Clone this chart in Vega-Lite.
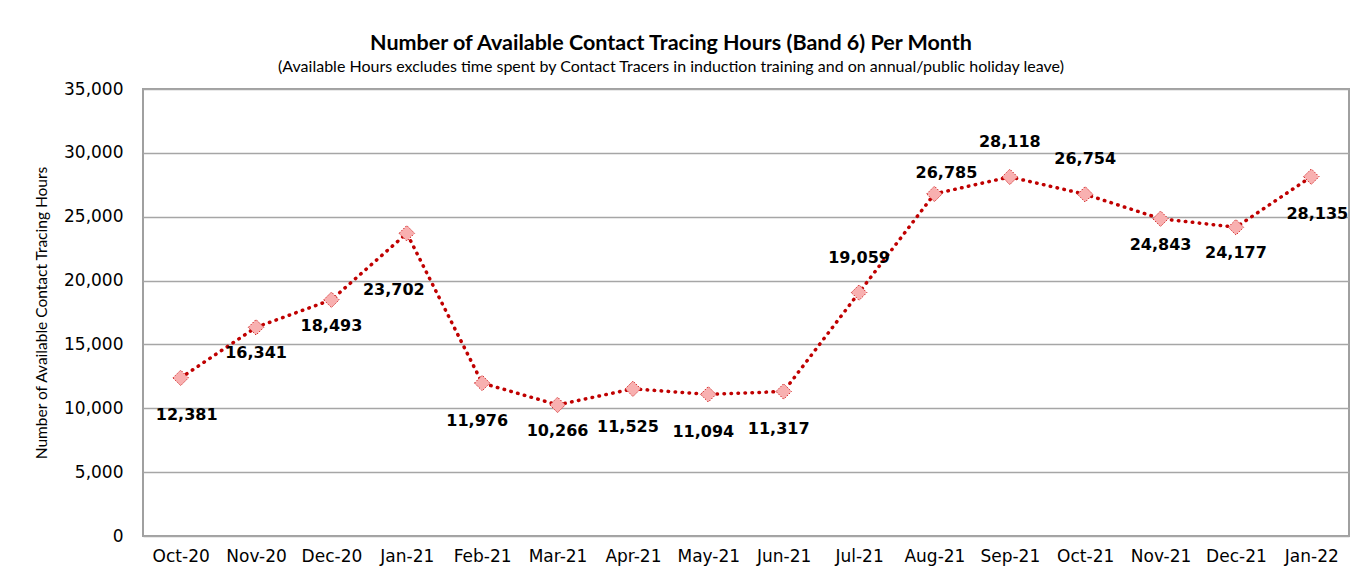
{
  "$schema": "https://vega.github.io/schema/vega-lite/v6.json",
  "width": 1206,
  "height": 447,
  "autosize": {"type": "none"},
  "padding": {"left": 143, "top": 89, "right": 9, "bottom": 45},
  "background": "white",
  "title": {
    "text": "Number of Available Contact Tracing Hours (Band 6) Per Month",
    "subtitle": "(Available Hours excludes time spent by Contact Tracers in induction training and on annual/public holiday leave)",
    "anchor": "middle",
    "dx": -75,
    "font": "Lato",
    "fontSize": 21.5,
    "fontWeight": "bold",
    "color": "black",
    "subtitleFont": "Lato",
    "subtitleFontSize": 16,
    "subtitleColor": "black",
    "subtitlePadding": 5,
    "offset": 5
  },
  "config": {
    "view": {"stroke": "#a0a0a0", "strokeWidth": 2, "fill": "white"}
  },
  "data": {
    "values": [
      {"month": "Oct-20", "hours": 12381},
      {"month": "Nov-20", "hours": 16341},
      {"month": "Dec-20", "hours": 18493},
      {"month": "Jan-21", "hours": 23702},
      {"month": "Feb-21", "hours": 11976},
      {"month": "Mar-21", "hours": 10266},
      {"month": "Apr-21", "hours": 11525},
      {"month": "May-21", "hours": 11094},
      {"month": "Jun-21", "hours": 11317},
      {"month": "Jul-21", "hours": 19059},
      {"month": "Aug-21", "hours": 26785},
      {"month": "Sep-21", "hours": 28118},
      {"month": "Oct-21", "hours": 26754},
      {"month": "Nov-21", "hours": 24843},
      {"month": "Dec-21", "hours": 24177},
      {"month": "Jan-22", "hours": 28135}
    ]
  },
  "encoding": {
    "x": {
      "field": "month",
      "type": "ordinal",
      "sort": null,
      "scale": {"type": "point", "padding": 0.5},
      "axis": {
        "title": null,
        "labelAngle": 0,
        "labelFont": "DejaVu Sans",
        "labelFontSize": 17,
        "labelColor": "black",
        "labelPadding": 12,
        "ticks": false,
        "domain": false,
        "grid": false
      }
    },
    "y": {
      "field": "hours",
      "type": "quantitative",
      "scale": {"domain": [0, 35000], "nice": false},
      "axis": {
        "title": "Number of Available Contact Tracing Hours",
        "titleFont": "Lato",
        "titleFontSize": 15.5,
        "titleFontWeight": "normal",
        "titleColor": "black",
        "titlePadding": 14,
        "values": [0, 5000, 10000, 15000, 20000, 25000, 30000, 35000],
        "format": ",.0f",
        "labelFont": "DejaVu Sans",
        "labelFontSize": 17,
        "labelColor": "black",
        "labelPadding": 20,
        "ticks": false,
        "domain": false,
        "grid": true,
        "gridColor": "#a6a6a6",
        "gridWidth": 1.3
      }
    }
  },
  "layer": [
    {
      "mark": {"type": "line", "color": "#c00000", "strokeWidth": 3.5, "strokeDash": [0.5, 6.5], "strokeCap": "round"}
    },
    {
      "mark": {"type": "point", "shape": "diamond", "size": 240, "filled": true, "fill": "#f8b0b0", "stroke": "#d02020", "strokeWidth": 1, "strokeDash": [1.5, 1.5], "opacity": 1}
    },
    {
      "transform": [{"filter": {"field": "month", "oneOf": ["Feb-21", "Apr-21", "May-21", "Jun-21"]}}],
      "mark": {"type": "text", "font": "DejaVu Sans", "fontWeight": "bold", "fontSize": 16, "color": "black", "dy": 38, "dx": -5},
      "encoding": {"text": {"field": "hours", "type": "quantitative", "format": ","}}
    },
    {
      "transform": [{"filter": {"field": "month", "oneOf": ["Oct-20", "Jan-22"]}}],
      "mark": {"type": "text", "font": "DejaVu Sans", "fontWeight": "bold", "fontSize": 16, "color": "black", "dy": 37, "dx": 6},
      "encoding": {"text": {"field": "hours", "type": "quantitative", "format": ","}}
    },
    {
      "transform": [{"filter": {"field": "month", "oneOf": ["Nov-20", "Dec-20", "Mar-21", "Nov-21", "Dec-21"]}}],
      "mark": {"type": "text", "font": "DejaVu Sans", "fontWeight": "bold", "fontSize": 16, "color": "black", "dy": 26},
      "encoding": {"text": {"field": "hours", "type": "quantitative", "format": ","}}
    },
    {
      "transform": [{"filter": {"field": "month", "oneOf": ["Jan-21"]}}],
      "mark": {"type": "text", "font": "DejaVu Sans", "fontWeight": "bold", "fontSize": 16, "color": "black", "dy": 57, "dx": -13},
      "encoding": {"text": {"field": "hours", "type": "quantitative", "format": ","}}
    },
    {
      "transform": [{"filter": {"field": "month", "oneOf": ["Jul-21", "Sep-21", "Oct-21"]}}],
      "mark": {"type": "text", "font": "DejaVu Sans", "fontWeight": "bold", "fontSize": 16, "color": "black", "dy": -35},
      "encoding": {"text": {"field": "hours", "type": "quantitative", "format": ","}}
    },
    {
      "transform": [{"filter": {"field": "month", "oneOf": ["Aug-21"]}}],
      "mark": {"type": "text", "font": "DejaVu Sans", "fontWeight": "bold", "fontSize": 16, "color": "black", "dy": -21, "dx": 12},
      "encoding": {"text": {"field": "hours", "type": "quantitative", "format": ","}}
    }
  ]
}
